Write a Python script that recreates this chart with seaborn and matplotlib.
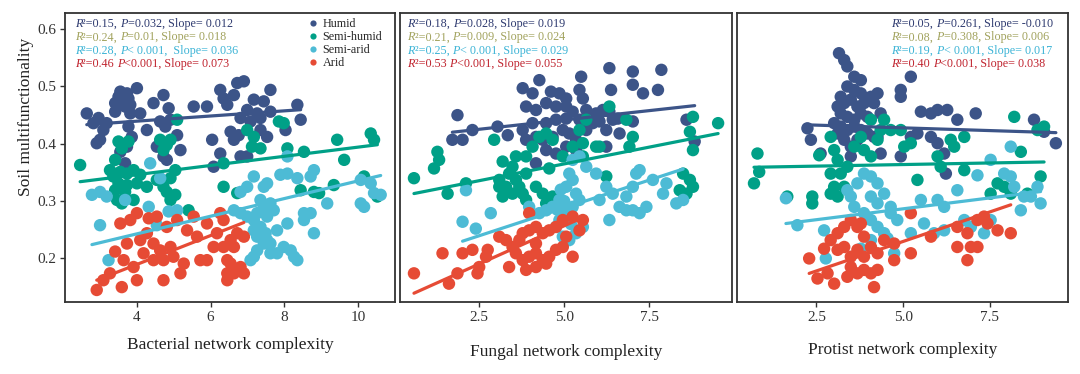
import re
import numpy as np
import pandas as pd
import matplotlib.pyplot as plt
import seaborn as sns

# values
bac_humid_x = [4.00, 3.55, 3.73, 3.50, 3.77, 3.59, 3.41, 3.68, 3.82, 4.72, 4.45, 4.86, 2.64, 2.96, 2.82, 3.18,
               3.09, 3.00, 2.91, 3.41, 3.82, 4.09, 4.27, 4.63, 4.77, 4.91, 5.09, 5.18, 4.72, 4.81, 4.54, 3.77,
               3.86, 3.73, 3.55, 3.68, 5.54, 5.90, 6.26, 6.35, 6.04, 6.26, 6.08, 6.72, 6.90, 7.62, 6.63, 7.17,
               7.44, 6.99, 7.26, 7.62, 6.45, 8.35, 8.44, 6.81, 7.08, 7.35, 6.54, 6.76, 7.35, 7.53, 8.03, 6.63,
               6.99, 6.81]
bac_humid_y = [0.497, 0.491, 0.488, 0.482, 0.479, 0.474, 0.471, 0.465, 0.468, 0.485, 0.471, 0.462, 0.453, 0.445,
               0.436, 0.436, 0.424, 0.407, 0.401, 0.456, 0.453, 0.453, 0.424, 0.439, 0.430, 0.442, 0.415, 0.389,
               0.378, 0.372, 0.395, 0.430, 0.412, 0.395, 0.386, 0.366, 0.465, 0.465, 0.494, 0.479, 0.407, 0.383,
               0.360, 0.506, 0.509, 0.494, 0.485, 0.477, 0.474, 0.459, 0.453, 0.456, 0.468, 0.468, 0.442, 0.445,
               0.439, 0.445, 0.421, 0.415, 0.424, 0.412, 0.424, 0.407, 0.378, 0.378]
bac_semihumid_x = [2.46, 3.50, 3.59, 3.77, 3.41, 3.27, 3.55, 3.73, 3.91, 4.09, 3.36, 3.50, 3.73, 4.00, 4.27, 3.41,
                   3.68, 3.46, 3.59, 3.91, 4.63, 4.81, 4.91, 4.72, 5.04, 4.91, 4.72, 4.81, 5.04, 4.91, 4.54, 5.09,
                   5.40, 6.35, 6.35, 6.99, 7.17, 7.35, 7.12, 7.85, 7.98, 8.08, 8.53, 9.43, 9.62, 10.34, 10.43,
                   10.16, 10.52, 8.44, 8.80, 8.94, 9.34, 6.72]
bac_semihumid_y = [0.363, 0.404, 0.392, 0.404, 0.372, 0.354, 0.351, 0.348, 0.354, 0.346, 0.343, 0.331, 0.328,
                   0.331, 0.325, 0.319, 0.316, 0.302, 0.296, 0.302, 0.407, 0.398, 0.407, 0.389, 0.354, 0.340,
                   0.325, 0.316, 0.311, 0.302, 0.337, 0.442, 0.284, 0.366, 0.325, 0.424, 0.412, 0.392, 0.395,
                   0.439, 0.436, 0.392, 0.386, 0.407, 0.372, 0.418, 0.407, 0.343, 0.308, 0.319, 0.316, 0.314,
                   0.328, 0.314]
bac_semiarid_x = [2.78, 3.00, 3.18, 3.68, 4.36, 4.63, 4.32, 4.54, 4.86, 5.09, 3.00, 3.23, 7.17, 6.99, 6.81, 7.53,
                  7.44, 7.89, 8.08, 8.08, 8.35, 8.71, 8.80, 9.16, 10.07, 10.34, 10.43, 10.61, 10.07, 10.16, 7.35,
                  7.44, 7.26, 7.17, 7.35, 7.53, 7.62, 7.71, 7.49, 7.62, 7.44, 7.26, 7.17, 7.62, 7.80, 7.98, 8.17,
                  8.26, 8.35, 8.08, 7.80, 8.53, 8.71, 8.53, 8.80, 6.63, 6.81, 6.99, 7.17, 7.26, 7.08, 7.53]
bac_semiarid_y = [0.311, 0.316, 0.308, 0.302, 0.366, 0.340, 0.290, 0.258, 0.282, 0.284, 0.258, 0.197, 0.343,
                  0.325, 0.316, 0.331, 0.325, 0.346, 0.378, 0.348, 0.340, 0.343, 0.354, 0.296, 0.337, 0.331,
                  0.314, 0.311, 0.296, 0.290, 0.302, 0.290, 0.279, 0.267, 0.255, 0.273, 0.296, 0.284, 0.244,
                  0.226, 0.226, 0.214, 0.203, 0.209, 0.209, 0.220, 0.214, 0.203, 0.197, 0.261, 0.249, 0.279,
                  0.279, 0.267, 0.244, 0.284, 0.279, 0.273, 0.249, 0.238, 0.197, 0.232]
bac_arid_x = [2.91, 3.27, 3.59, 4.00, 4.72, 3.41, 3.64, 3.91, 4.18, 3.73, 3.55, 3.82, 4.00, 4.32, 4.54, 4.81,
              5.09, 5.36, 4.27, 4.09, 4.45, 4.63, 4.91, 4.45, 4.72, 4.99, 5.27, 5.18, 5.72, 5.90, 6.08, 6.17,
              6.26, 5.90, 5.54, 5.63, 6.35, 6.45, 6.45, 3.09, 6.35, 6.54, 6.72, 6.90, 6.63, 6.54, 6.63, 6.81,
              6.90, 6.45]
bac_arid_y = [0.145, 0.174, 0.150, 0.162, 0.162, 0.212, 0.197, 0.185, 0.209, 0.226, 0.261, 0.267, 0.279, 0.270,
              0.273, 0.255, 0.267, 0.249, 0.244, 0.232, 0.226, 0.214, 0.220, 0.197, 0.197, 0.203, 0.191, 0.174,
              0.197, 0.197, 0.220, 0.244, 0.279, 0.261, 0.273, 0.238, 0.220, 0.197, 0.174, 0.162, 0.267, 0.232,
              0.244, 0.238, 0.220, 0.191, 0.174, 0.185, 0.174, 0.162]

fun_humid_x = [6.33, 7.02, 7.86, 5.50, 4.27, 7.02, 6.38, 7.32, 7.76, 3.78, 4.07, 4.61, 4.86, 5.06, 5.45, 5.55,
               3.88, 4.17, 4.47, 4.76, 5.06, 5.25, 5.65, 5.94, 6.14, 6.33, 6.43, 6.58, 7.02, 6.04, 5.84, 5.45,
               5.06, 4.76, 4.47, 4.07, 3.78, 3.88, 4.17, 4.37, 4.66, 4.96, 5.15, 5.35, 5.65, 6.24, 6.63, 4.47,
               4.76, 5.06, 5.35, 4.17, 6.24, 1.86, 2.30, 3.04, 3.34, 1.71, 2.01, 8.60, 8.84]
fun_humid_y = [0.532, 0.526, 0.529, 0.517, 0.511, 0.503, 0.494, 0.488, 0.494, 0.497, 0.488, 0.491, 0.488, 0.479,
               0.494, 0.479, 0.465, 0.459, 0.471, 0.465, 0.465, 0.456, 0.459, 0.453, 0.459, 0.456, 0.442, 0.444,
               0.439, 0.439, 0.436, 0.442, 0.444, 0.442, 0.436, 0.436, 0.424, 0.407, 0.412, 0.407, 0.412, 0.424,
               0.418, 0.407, 0.424, 0.424, 0.418, 0.389, 0.383, 0.395, 0.389, 0.366, 0.395, 0.450, 0.424, 0.430,
               0.415, 0.407, 0.407, 0.442, 0.404]
fun_semihumid_x = [0.58, 1.17, 1.32, 1.27, 1.57, 2.11, 2.94, 3.19, 3.09, 3.29, 3.38, 3.48, 3.58, 3.68, 3.78, 3.88,
                   3.48, 3.19, 3.09, 3.58, 3.88, 4.07, 4.27, 4.47, 4.66, 3.88, 4.17, 4.37, 4.47, 4.66, 4.56, 4.96,
                   5.25, 5.55, 5.94, 5.45, 5.65, 6.04, 6.24, 6.33, 6.83, 7.02, 6.92, 8.50, 8.70, 8.79, 8.60, 8.40,
                   8.79, 8.70, 8.79, 9.53, 5.55]
fun_semihumid_y = [0.340, 0.357, 0.372, 0.386, 0.313, 0.331, 0.407, 0.369, 0.337, 0.325, 0.348, 0.360, 0.337,
                   0.325, 0.313, 0.302, 0.313, 0.308, 0.325, 0.378, 0.378, 0.395, 0.412, 0.418, 0.407, 0.348,
                   0.325, 0.313, 0.296, 0.308, 0.357, 0.378, 0.395, 0.401, 0.395, 0.424, 0.442, 0.395, 0.343,
                   0.465, 0.442, 0.412, 0.395, 0.348, 0.337, 0.325, 0.313, 0.319, 0.447, 0.421, 0.389, 0.436,
                   0.378]
fun_semiarid_x = [2.11, 2.01, 2.40, 2.84, 3.97, 4.27, 4.47, 4.66, 4.86, 5.06, 5.25, 5.15, 5.35, 5.45, 5.25, 5.06,
                  4.86, 4.76, 4.96, 5.15, 5.35, 5.55, 5.65, 5.94, 6.24, 6.43, 6.04, 6.63, 6.83, 7.02, 7.22, 7.12,
                  7.61, 7.91, 8.01, 7.42, 7.22, 7.02, 6.33, 6.83, 8.30, 8.50, 5.25, 5.45, 4.90, 5.00, 5.10, 4.80,
                  5.20]
fun_semiarid_y = [0.319, 0.264, 0.252, 0.279, 0.290, 0.279, 0.284, 0.290, 0.302, 0.325, 0.337, 0.348, 0.313,
                  0.302, 0.290, 0.279, 0.267, 0.255, 0.238, 0.232, 0.244, 0.255, 0.360, 0.348, 0.325, 0.313,
                  0.302, 0.290, 0.308, 0.325, 0.354, 0.348, 0.337, 0.313, 0.331, 0.290, 0.279, 0.284, 0.267,
                  0.284, 0.296, 0.302, 0.372, 0.378, 0.320, 0.300, 0.270, 0.285, 0.260]
fun_arid_x = [0.58, 1.42, 1.86, 2.45, 2.50, 2.01, 2.30, 2.75, 3.09, 3.29, 3.48, 3.68, 3.78, 3.97, 4.17, 4.37,
              4.56, 4.76, 4.96, 5.25, 5.45, 5.55, 3.58, 3.78, 3.97, 4.17, 4.37, 4.56, 4.76, 4.96, 5.25, 3.88,
              4.17, 4.47, 3.97, 4.17, 5.06, 1.61, 2.70, 3.38]
fun_arid_y = [0.174, 0.209, 0.174, 0.174, 0.185, 0.209, 0.215, 0.215, 0.238, 0.232, 0.220, 0.232, 0.244, 0.249,
              0.255, 0.244, 0.249, 0.255, 0.267, 0.273, 0.249, 0.267, 0.209, 0.197, 0.203, 0.209, 0.197, 0.203,
              0.215, 0.220, 0.203, 0.180, 0.185, 0.191, 0.279, 0.226, 0.238, 0.156, 0.203, 0.185]

pro_humid_x = [3.15, 3.30, 3.39, 3.59, 3.78, 5.22, 4.93, 4.93, 3.39, 3.59, 3.78, 4.07, 4.26, 3.20, 3.30, 3.49,
               3.68, 3.87, 4.16, 3.11, 3.20, 3.39, 3.59, 3.78, 3.97, 4.35, 3.01, 3.20, 3.39, 3.59, 3.78, 3.97,
               4.16, 3.11, 3.30, 3.49, 3.68, 2.24, 2.34, 2.62, 3.49, 4.26, 4.35, 4.93, 5.51, 5.80, 5.99, 6.27,
               6.56, 7.09, 5.22, 5.41, 5.80, 5.99, 6.18, 6.23, 8.77, 9.06, 9.40]
pro_humid_y = [0.558, 0.546, 0.535, 0.517, 0.511, 0.517, 0.494, 0.482, 0.500, 0.494, 0.488, 0.482, 0.488, 0.482,
               0.471, 0.477, 0.465, 0.471, 0.471, 0.465, 0.453, 0.447, 0.442, 0.453, 0.447, 0.453, 0.436, 0.430,
               0.424, 0.430, 0.424, 0.418, 0.412, 0.418, 0.407, 0.395, 0.407, 0.427, 0.407, 0.383, 0.378, 0.412,
               0.383, 0.378, 0.456, 0.453, 0.459, 0.459, 0.442, 0.453, 0.412, 0.418, 0.412, 0.401, 0.383, 0.348,
               0.442, 0.421, 0.401]
pro_semihumid_x = [0.80, 0.85, 0.70, 1.66, 2.38, 2.38, 2.58, 2.91, 3.01, 3.11, 2.91, 3.01, 2.91, 3.11, 3.30, 3.20,
                   3.39, 3.59, 3.78, 3.87, 4.07, 4.26, 4.35, 4.64, 4.93, 5.03, 5.22, 4.07, 4.45, 5.99, 6.08, 6.37,
                   6.47, 6.76, 6.76, 5.41, 8.20, 8.39, 8.87, 9.06, 8.96, 8.58, 7.72, 7.91, 8.10, 7.52]
pro_semihumid_y = [0.383, 0.351, 0.331, 0.308, 0.308, 0.296, 0.380, 0.412, 0.389, 0.372, 0.348, 0.325, 0.313,
                   0.308, 0.325, 0.348, 0.360, 0.395, 0.412, 0.389, 0.378, 0.407, 0.424, 0.424, 0.424, 0.395,
                   0.401, 0.442, 0.442, 0.378, 0.360, 0.407, 0.395, 0.412, 0.354, 0.337, 0.447, 0.386, 0.424,
                   0.430, 0.343, 0.313, 0.331, 0.325, 0.313, 0.313]
pro_semiarid_x = [1.62, 1.95, 2.72, 2.77, 3.39, 3.49, 3.59, 3.68, 3.87, 4.07, 4.26, 4.07, 4.26, 4.45, 4.64, 3.87,
                  4.07, 4.26, 4.45, 4.64, 4.83, 4.07, 3.78, 4.55, 4.74, 5.22, 5.60, 5.89, 6.18, 5.51, 5.99, 6.18,
                  6.56, 6.76, 7.14, 7.33, 7.52, 7.91, 8.10, 8.10, 8.20, 8.48, 8.68, 8.87, 8.96, 8.39, 7.52, 6.95]
pro_semiarid_y = [0.305, 0.258, 0.249, 0.200, 0.319, 0.308, 0.290, 0.331, 0.348, 0.343, 0.331, 0.308, 0.296,
                  0.313, 0.290, 0.279, 0.267, 0.255, 0.244, 0.279, 0.267, 0.232, 0.217, 0.235, 0.209, 0.244,
                  0.261, 0.244, 0.249, 0.302, 0.302, 0.290, 0.319, 0.267, 0.345, 0.244, 0.372, 0.348, 0.395,
                  0.343, 0.325, 0.308, 0.308, 0.325, 0.296, 0.284, 0.267, 0.255]
pro_arid_x = [2.29, 2.53, 2.82, 3.01, 2.72, 2.91, 3.11, 3.30, 3.49, 3.68, 3.87, 3.11, 3.30, 3.49, 3.68, 3.87,
              4.07, 4.26, 3.49, 3.68, 3.87, 3.39, 4.07, 4.26, 4.16, 4.45, 4.74, 5.22, 5.22, 4.74, 5.80, 6.56,
              6.56, 6.85, 6.85, 6.95, 7.14, 7.33, 7.43, 7.72, 8.10, 7.14, 3.78]
pro_arid_y = [0.200, 0.165, 0.174, 0.156, 0.217, 0.232, 0.244, 0.255, 0.267, 0.255, 0.238, 0.215, 0.220, 0.203,
              0.215, 0.203, 0.220, 0.209, 0.185, 0.174, 0.180, 0.168, 0.174, 0.180, 0.150, 0.232, 0.226, 0.279,
              0.209, 0.197, 0.238, 0.255, 0.220, 0.244, 0.197, 0.220, 0.267, 0.273, 0.261, 0.249, 0.244, 0.220,
              0.261]

# fitted lines as drawn in the figure (Humid, Semi-humid, Semi-arid, Arid)
bac_fit_slope = [0.0045, 0.0080, 0.0154, 0.0252]
bac_fit_intercept = [0.4215, 0.3142, 0.1813, 0.0888]
fun_fit_slope = [0.0065, 0.0117, 0.0194, 0.0266]
fun_fit_intercept = [0.4091, 0.3064, 0.1911, 0.1239]
pro_fit_slope = [-0.0019, 0.0011, 0.0076, 0.0206]
pro_fit_intercept = [0.4373, 0.3583, 0.2486, 0.1267]

groups = ["Humid", "Semi-humid", "Semi-arid", "Arid"]
colors = ["#3C5488", "#00A087", "#4DBBD5", "#E64B35"]
text_colors = ["#2f3b70", "#a2a35e", "#3db4d6", "#c0242f"]

bac_stats = ["R²=0.15, P=0.032, Slope= 0.012", "R²=0.24, P=0.01, Slope= 0.018",
             "R²=0.28, P< 0.001,  Slope= 0.036", "R²=0.46 P<0.001, Slope= 0.073"]
fun_stats = ["R²=0.18, P=0.028, Slope= 0.019", "R²=0.21, P=0.009, Slope= 0.024",
             "R²=0.25, P< 0.001, Slope= 0.029", "R²=0.53 P<0.001, Slope= 0.055"]
pro_stats = ["R²=0.05, P=0.261, Slope= -0.010", "R²=0.08, P=0.308, Slope= 0.006",
             "R²=0.19, P< 0.001, Slope= 0.017", "R²=0.40 P<0.001, Slope= 0.038"]

x_labels = ["Bacterial network complexity", "Fungal network complexity", "Protist network complexity"]
y_label = "Soil multifunctionality"
y_ticks = [0.2, 0.3, 0.4, 0.5, 0.6]
bac_ticks = [4, 6, 8, 10]
fun_ticks = [2.5, 5.0, 7.5]
pro_ticks = [2.5, 5.0, 7.5]


def make_df(xs, ys):
    parts = [pd.DataFrame({"x": x, "y": y, "group": g}) for g, x, y in zip(groups, xs, ys)]
    return pd.concat(parts, ignore_index=True)


def stat_line(ax, x, y, s, color, size):
    # R and P in italics, the rest upright, chained one piece after the other
    pieces = [p for p in re.split(r"(R(?=²)|P(?=\s*[=<]))", s) if p]
    t = ax.text(x, y, pieces[0], transform=ax.transAxes, color=color, fontsize=size,
                style="italic" if pieces[0] in ("R", "P") else "normal", ha="left", va="bottom")
    for p in pieces[1:]:
        t = ax.annotate(p, xy=(1, 0), xycoords=t, color=color, fontsize=size, ha="left", va="bottom",
                        style="italic" if p in ("R", "P") else "normal")


panels = [
    (make_df([bac_humid_x, bac_semihumid_x, bac_semiarid_x, bac_arid_x],
             [bac_humid_y, bac_semihumid_y, bac_semiarid_y, bac_arid_y]),
     bac_fit_slope, bac_fit_intercept, bac_stats, bac_ticks, (2.05, 11.0), 0.03, -0.12),
    (make_df([fun_humid_x, fun_semihumid_x, fun_semiarid_x, fun_arid_x],
             [fun_humid_y, fun_semihumid_y, fun_semiarid_y, fun_arid_y]),
     fun_fit_slope, fun_fit_intercept, fun_stats, fun_ticks, (0.17, 9.93), 0.022, -0.145),
    (make_df([pro_humid_x, pro_semihumid_x, pro_semiarid_x, pro_arid_x],
             [pro_humid_y, pro_semihumid_y, pro_semiarid_y, pro_arid_y]),
     pro_fit_slope, pro_fit_intercept, pro_stats, pro_ticks, (0.21, 9.75), 0.465, -0.138),
]

sns.set_theme(style="white")
plt.rcParams["font.family"] = ["Liberation Serif", "DejaVu Serif"]

fig = plt.figure(figsize=(10.8, 3.74), dpi=100)
boxes = [[0.0602, 0.1925, 0.3056, 0.774], [0.3704, 0.1925, 0.3071, 0.774], [0.6824, 0.1925, 0.3065, 0.774]]

for i, (df, slopes, intercepts, stats, ticks, xlim, tx, ly) in enumerate(panels):
    ax = fig.add_axes(boxes[i])
    sns.scatterplot(data=df, x="x", y="y", hue="group", hue_order=groups, palette=colors,
                    s=80, linewidth=0, alpha=1, ax=ax, legend=(i == 0))
    for g, c, b, a in zip(groups, colors, slopes, intercepts):
        sub = df[df["group"] == g]
        xr = np.array([sub["x"].min(), sub["x"].max()])
        sns.lineplot(x=xr, y=a + b * xr, color=c, lw=2.3, ax=ax, legend=False)

    ax.set_xlim(xlim)
    ax.set_ylim(0.124, 0.629)
    ax.set_xticks(ticks)
    ax.set_xticklabels([str(t) for t in ticks])
    ax.set_xlabel(x_labels[i], fontsize=12.5, color="#222222")
    ax.xaxis.set_label_coords(0.5, ly)
    ax.tick_params(axis="x", bottom=True, direction="out", length=3.5, width=1,
                   color="#333333", labelsize=11, labelcolor="#333333", pad=3)
    if i == 0:
        ax.set_yticks(y_ticks)
        ax.set_yticklabels([str(t) for t in y_ticks])
        ax.tick_params(axis="y", left=True, direction="out", length=3.5, width=1,
                       color="#333333", labelsize=11, labelcolor="#333333", pad=3)
        ax.set_ylabel(y_label, fontsize=12.5, color="#222222")
        ax.yaxis.set_label_coords(-0.095, 0.64)
        sns.move_legend(ax, "upper left", bbox_to_anchor=(0.70, 1.015), frameon=False, title="",
                        fontsize=8.7, markerscale=0.5, labelspacing=0.1, handletextpad=0.2,
                        handlelength=1.2, borderpad=0.3)
    else:
        ax.set_ylabel("")
        ax.tick_params(axis="y", left=False, labelleft=False)

    for sp in ax.spines.values():
        sp.set_color("#333333")
        sp.set_linewidth(1.3)

    for k, (s, c) in enumerate(zip(stats, text_colors)):
        stat_line(ax, tx, 0.94 - k * 0.0466, s, c, 8.7)

fig.savefig("out.png", dpi=100)
